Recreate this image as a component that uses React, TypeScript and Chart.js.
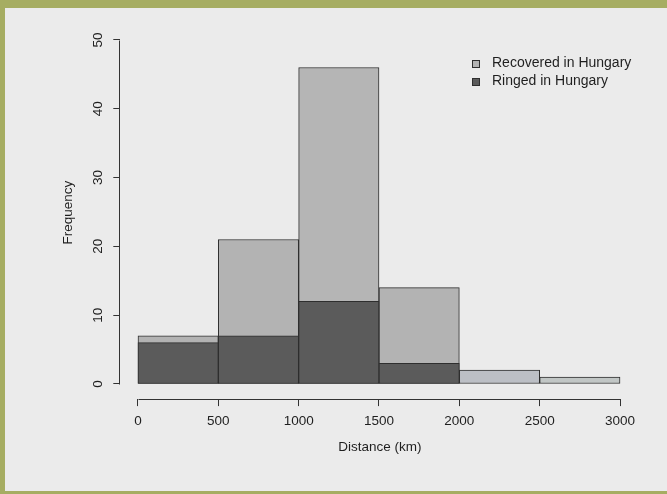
import React, { useEffect, useRef } from 'react';
import { Chart, registerables } from 'chart.js';

Chart.register(...registerables);

// ---- data ----
const binEdges = [0, 500, 1000, 1500, 2000, 2500, 3000];
const recoveredInHungary = [7, 21, 46, 14, 2, 1];
const ringedInHungary = [6, 7, 12, 3, 0, 0];
const xTicks = [0, 500, 1000, 1500, 2000, 2500, 3000];
const yTicks = [0, 10, 20, 30, 40, 50];
const seriesLabels = ['Recovered in Hungary', 'Ringed in Hungary'];
const xTitle = 'Distance (km)';
const yTitle = 'Frequency';

const binCenters = binEdges.slice(0, -1).map((e, i) => (e + binEdges[i + 1]) / 2);

const FONT = '"Liberation Sans", Arial, Helvetica, sans-serif';
const TXT = '#1f1f1f';
const AXIS = '#333333';
const LIGHT = ['#b3b3b3', '#b3b3b3', '#b5b5b5', '#b3b3b3', '#bcbfc5', '#c1c6c5'];
const DARK = '#5b5b5b';
const EDGE = '#2e2e2e';

const rAxesPlugin = {
  id: 'rAxes',
  afterDraw(chart: any) {
    const { ctx, chartArea, scales } = chart;
    const x = scales.x;
    const y = scales.y;
    ctx.save();
    ctx.strokeStyle = AXIS;
    ctx.lineWidth = 1;
    // x axis line (only over the tick range, like R)
    const yb = Math.round(chartArea.bottom) + 0.5;
    ctx.beginPath();
    ctx.moveTo(Math.round(x.getPixelForValue(xTicks[0])) + 0.5, yb);
    ctx.lineTo(Math.round(x.getPixelForValue(xTicks[xTicks.length - 1])) + 0.5, yb);
    ctx.stroke();
    // y axis line
    const xl = Math.round(chartArea.left) - 0.5;
    ctx.beginPath();
    ctx.moveTo(xl, Math.round(y.getPixelForValue(yTicks[0])) + 0.5);
    ctx.lineTo(xl, Math.round(y.getPixelForValue(yTicks[yTicks.length - 1])) + 0.5);
    ctx.stroke();

    // legend (top right, inside plot)
    const lx = 467;
    const ly0 = 55.5;
    const dy = 18;
    ctx.font = `14px ${FONT}`;
    ctx.textBaseline = 'middle';
    ctx.textAlign = 'left';
    chart.data.datasets.forEach((ds: any, i: number) => {
      const cy = ly0 + i * dy;
      const bg = Array.isArray(ds.backgroundColor) ? ds.backgroundColor[0] : ds.backgroundColor;
      ctx.fillStyle = bg;
      ctx.fillRect(lx, Math.round(cy - 4), 8, 8);
      ctx.strokeStyle = EDGE;
      ctx.strokeRect(lx + 0.5, Math.round(cy - 4) + 0.5, 7, 7);
      ctx.fillStyle = TXT;
      ctx.fillText(ds.label, lx + 20, cy);
    });
    ctx.restore();
  },
};

export default function App() {
  const ref = useRef<HTMLCanvasElement | null>(null);

  useEffect(() => {
    if (!ref.current) return;
    const chart = new Chart(ref.current, {
      type: 'bar',
      data: {
        datasets: [
          {
            label: seriesLabels[0],
            data: binCenters.map((c, i) => ({ x: c, y: recoveredInHungary[i] })),
            backgroundColor: LIGHT,
            borderColor: EDGE,
            borderWidth: 1,
            borderSkipped: false,
            grouped: false,
            barPercentage: 1,
            categoryPercentage: 1,
            order: 2,
          },
          {
            label: seriesLabels[1],
            data: binCenters.map((c, i) => ({ x: c, y: ringedInHungary[i] })),
            backgroundColor: DARK,
            borderColor: EDGE,
            borderWidth: 1,
            borderSkipped: false,
            grouped: false,
            barPercentage: 1,
            categoryPercentage: 1,
            order: 1,
          },
        ],
      } as any,
      options: {
        animation: false,
        responsive: false,
        devicePixelRatio: 1,
        layout: { padding: { left: 35.3, right: 27.7, top: 18.2, bottom: 31.9 } },
        plugins: {
          legend: { display: false },
          tooltip: { enabled: false },
        },
        scales: {
          x: {
            type: 'linear',
            min: -110,
            max: 3120,
            offset: false,
            afterFit(s: any) {
              s.height = 60;
            },
            afterBuildTicks(s: any) {
              s.ticks = xTicks.map((v) => ({ value: v }));
            },
            grid: {
              display: true,
              offset: false,
              drawOnChartArea: false,
              drawTicks: true,
              tickLength: 7,
              color: AXIS,
              lineWidth: 1,
            },
            border: { display: false },
            ticks: {
              autoSkip: false,
              maxRotation: 0,
              minRotation: 0,
              padding: 7,
              color: TXT,
              font: { family: FONT, size: 13.5 },
              callback: (v: any) => String(v),
            },
            title: {
              display: true,
              text: xTitle,
              color: TXT,
              font: { family: FONT, size: 13.5 },
              padding: 4,
            },
          },
          y: {
            type: 'linear',
            min: -2.2,
            max: 52,
            afterFit(s: any) {
              s.width = 80;
            },
            afterBuildTicks(s: any) {
              s.ticks = yTicks.map((v) => ({ value: v }));
            },
            grid: {
              display: true,
              offset: false,
              drawOnChartArea: false,
              drawTicks: true,
              tickLength: 7,
              color: AXIS,
              lineWidth: 1,
            },
            border: { display: false },
            ticks: {
              autoSkip: false,
              minRotation: 90,
              maxRotation: 90,
              crossAlign: 'center',
              padding: 8,
              color: TXT,
              font: { family: FONT, size: 13.5 },
              callback: (v: any) => String(v),
            },
            title: {
              display: true,
              text: yTitle,
              color: TXT,
              font: { family: FONT, size: 13.5 },
              padding: { top: 20, bottom: 0 },
            },
          },
        },
      } as any,
      plugins: [rAxesPlugin],
    });
    return () => chart.destroy();
  }, []);

  return (
    <div
      style={{
        position: 'fixed',
        left: 0,
        top: 0,
        width: 667,
        height: 494,
        background: '#a6ad62',
        overflow: 'hidden',
      }}
    >
      <canvas
        ref={ref}
        width={662}
        height={483}
        style={{ position: 'absolute', left: 5, top: 8, width: 662, height: 483, background: '#ebebeb' }}
      />
    </div>
  );
}
